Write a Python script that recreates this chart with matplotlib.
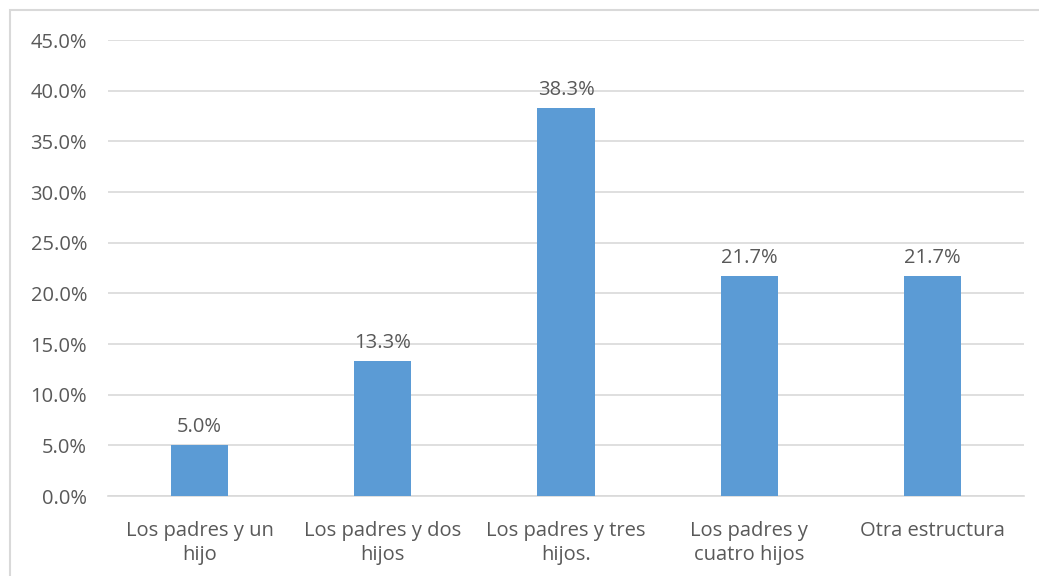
import matplotlib.pyplot as plt
from matplotlib.patches import Rectangle
from matplotlib.ticker import MultipleLocator, PercentFormatter

plt.rcParams['font.family'] = ['Open Sans', 'DejaVu Sans']

categories = ['Los padres y un\nhijo', 'Los padres y dos\nhijos', 'Los padres y tres\nhijos.',
              'Los padres y\ncuatro hijos', 'Otra estructura']
values = [5.0, 13.3, 38.3, 21.7, 21.7]
labels = ['5.0%', '13.3%', '38.3%', '21.7%', '21.7%']

TEXT = '#595959'
GRID = '#D9D9D9'
BAR = '#5B9BD5'
FS = 14.5

fig = plt.figure(figsize=(10.39, 5.76), dpi=100)
W, H = 1039, 576

# chart area border (right/bottom edges fall outside the picture)
fig.patches.append(Rectangle((10 / W, -0.1), 1.2, 1 - 10 / H + 0.1, transform=fig.transFigure,
                             fill=False, edgecolor=GRID, linewidth=1.5))

ax = fig.add_axes([108 / W, 1 - 496 / H, (1024 - 108) / W, (496 - 40) / H])
x = range(len(categories))
bars = ax.bar(x, values, width=0.313, color=BAR, zorder=3)
ax.set_xlim(-0.5, len(categories) - 0.5)
ax.set_ylim(0, 45)
ax.yaxis.set_major_locator(MultipleLocator(5))
ax.yaxis.set_major_formatter(PercentFormatter(decimals=1))
ax.grid(axis='y', color=GRID, linewidth=1.2, zorder=0)
for s in ['top', 'right', 'left']:
    ax.spines[s].set_visible(False)
ax.spines['bottom'].set_color(GRID)
ax.spines['bottom'].set_linewidth(1.2)
ax.tick_params(axis='both', length=0, labelsize=FS, colors=TEXT)
ax.tick_params(axis='y', pad=15)
ax.tick_params(axis='x', pad=18)
ax.set_xticks(list(x))
ax.set_xticklabels(categories, linespacing=1.25)

for b, t in zip(bars, labels):
    ax.annotate(t, (b.get_x() + b.get_width() / 2, b.get_height()), xytext=(0, 6),
                textcoords='offset points', ha='center', va='bottom', fontsize=FS, color=TEXT)

fig.savefig('out.png', dpi=100)
